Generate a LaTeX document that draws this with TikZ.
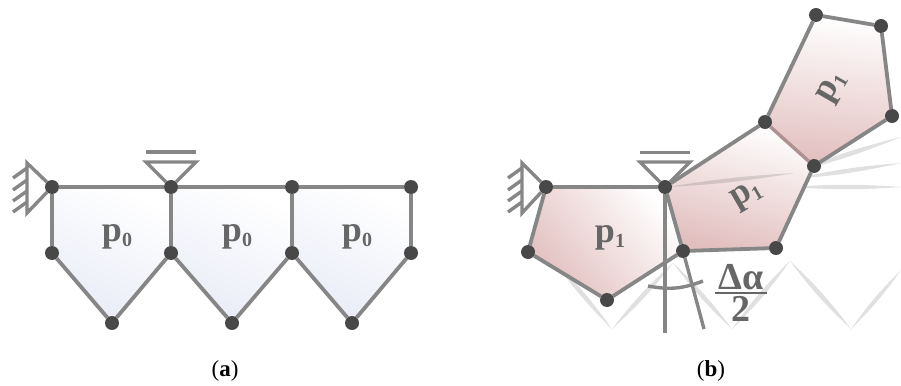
\documentclass[tikz,border=0pt]{standalone}
\usepackage{amsmath}
\usepackage{fontspec}
\setmainfont{Liberation Serif}
\usetikzlibrary{backgrounds}
\definecolor{ChainGray}{HTML}{868686}
\definecolor{ChainDot}{HTML}{484848}
\definecolor{ChainText}{HTML}{666666}
\definecolor{ChainBlue}{HTML}{E9ECF7}
\definecolor{ChainRed}{HTML}{E2BEBE}
\definecolor{ChainSeam}{HTML}{AE9090}
\newcommand{\loadlabel}[1]{p\raisebox{-5pt}{\fontsize{20}{20}\selectfont #1}}
\tikzset{
  joint/.style={circle,fill=ChainDot,minimum size=14pt,inner sep=0pt,outer sep=0pt},
  bar/.style={draw=ChainGray,line width=3.8pt},
  thinbar/.style={draw=ChainGray,line width=3.4pt},
  seam/.style={draw=ChainSeam,line width=3.4pt},
  loadtext/.style={text=ChainText,font=\fontsize{36}{36}\selectfont\bfseries,inner sep=0pt},
  ghostlens/.style={fill=black,opacity=0.12},
  caption/.style={font=\fontsize{23}{23}\selectfont,inner sep=0pt}
}

\begin{document}
\begin{tikzpicture}[x=1pt,y=-1pt]
  \useasboundingbox (0,0) rectangle (901,385);
  % undeformed chain
  \node[joint] (at1) at (52,187) {};
  \node[joint] (at2) at (171,187) {};
  \node[joint] (at3) at (292,187) {};
  \node[joint] (at4) at (411,187) {};
  \node[joint] (am1) at (52,253) {};
  \node[joint] (am2) at (171,253) {};
  \node[joint] (am3) at (292,253) {};
  \node[joint] (am4) at (411,253) {};
  \node[joint] (ab1) at (112,323) {};
  \node[joint] (ab2) at (232,323) {};
  \node[joint] (ab3) at (352,323) {};
  % deformed chain
  \node[joint] (b1) at (546,187) {};
  \node[joint] (b2) at (665,187) {};
  \node[joint] (b3) at (683,251) {};
  \node[joint] (b4) at (607,300) {};
  \node[joint] (b5) at (528,252) {};
  \node[joint] (b6) at (776,248) {};
  \node[joint] (b7) at (814,166) {};
  \node[joint] (b8) at (765,122) {};
  \node[joint] (b9) at (892,116) {};
  \node[joint] (b10) at (881,26) {};
  \node[joint] (b11) at (816,15) {};
  % ghost end points
  \coordinate (z0) at (555,262);
  \coordinate (z1) at (612,329);
  \coordinate (z2) at (673,263);
  \coordinate (z3) at (732,329);
  \coordinate (z4) at (790,261);
  \coordinate (z5) at (851,329);
  \coordinate (z6) at (901,270);
  \coordinate (r0) at (668,187);
  \coordinate (r1) at (795,173);
  \coordinate (r2) at (791,173);
  \coordinate (r3) at (901,137);
  \coordinate (r4) at (793,179);
  \coordinate (r5) at (901,163);
  \coordinate (r6) at (792,187);
  \coordinate (r7) at (901,187);
  \begin{scope}[on background layer]
    \foreach \from/\to in {z0/z1,z1/z2,z2/z3,z3/z4,z4/z5,z5/z6}
      \fill[ghostlens] (\from) to[bend left=5] (\to) to[bend left=5] (\from);
    \foreach \from/\to in {r2/r3,r4/r5,r6/r7}
      \fill[ghostlens] (\from) to[bend left=4] (\to) to[bend left=4] (\from);
    \shade[bottom color=ChainBlue,top color=white,shading angle=-25] (at1.center)--(at2.center)--(am2.center)--(ab1.center)--(am1.center)--cycle;
    \shade[bottom color=ChainBlue,top color=white,shading angle=-25] (at2.center)--(at3.center)--(am3.center)--(ab2.center)--(am2.center)--cycle;
    \shade[bottom color=ChainBlue,top color=white,shading angle=-25] (at3.center)--(at4.center)--(am4.center)--(ab3.center)--(am3.center)--cycle;
    \shade[bottom color=ChainRed,top color=white,shading angle=-50] (b1.center)--(b2.center)--(b3.center)--(b4.center)--(b5.center)--cycle;
    \shade[bottom color=ChainRed,top color=white,shading angle=-15] (b2.center)--(b3.center)--(b6.center)--(b7.center)--(b8.center)--cycle;
    \shade[bottom color=ChainRed,top color=white,shading angle=-5] (b8.center)--(b7.center)--(b9.center)--(b10.center)--(b11.center)--cycle;
    \fill[ghostlens] (r0) to[bend left=3] (r1) to[bend left=3] (r0);
  \end{scope}
  % bars (a)
  \draw[bar] (at1)--(at2); \draw[bar] (at2)--(at3); \draw[bar] (at3)--(at4);
  \draw[bar] (at1)--(am1); \draw[bar] (at2)--(am2); \draw[bar] (at3)--(am3); \draw[bar] (at4)--(am4);
  \draw[bar] (am1)--(ab1); \draw[bar] (ab1)--(am2); \draw[bar] (am2)--(ab2);
  \draw[bar] (ab2)--(am3); \draw[bar] (am3)--(ab3); \draw[bar] (ab3)--(am4);
  % bars (b)
  \draw[bar] (b1)--(b2); \draw[bar] (b2)--(b3); \draw[bar] (b3)--(b4); \draw[bar] (b4)--(b5); \draw[bar] (b5)--(b1);
  \draw[bar] (b3)--(b6); \draw[bar] (b6)--(b7); \draw[seam] (b7)--(b8); \draw[bar] (b8)--(b2);
  \draw[bar] (b7)--(b9); \draw[bar] (b9)--(b10); \draw[bar] (b10)--(b11); \draw[bar] (b11)--(b8);
  % supports (a)
  \coordinate (ah1) at (27,163);
  \coordinate (ah2) at (27,213);
  \coordinate (ar1) at (146,162);
  \coordinate (ar2) at (196,162);
  \coordinate (ar3) at (146,152);
  \coordinate (ar4) at (196,152);
  \draw[thinbar] (at1)--(ah1)--(ah2)--(at1);
  \draw[thinbar] (at2)--(ar1)--(ar2)--(at2);
  \draw[thinbar] (ar3)--(ar4);
  \foreach \y/\i in {168/1,180/2,191/3,202/4} {
    \coordinate (ak\i) at (27,\y);
    \coordinate (al\i) at (13,\y+10);
    \draw[thinbar] (ak\i)--(al\i);
  }
  % supports (b)
  \coordinate (bh1) at (522,163);
  \coordinate (bh2) at (522,213);
  \coordinate (br1) at (640,162);
  \coordinate (br2) at (690,162);
  \coordinate (br3) at (640,152.500);
  \coordinate (br4) at (690,152.500);
  \draw[thinbar] (b1)--(bh1)--(bh2)--(b1);
  \draw[thinbar] (b2)--(br1)--(br2)--(b2);
  \draw[thinbar] (br3)--(br4);
  \foreach \y/\i in {168/1,180/2,191/3,202/4} {
    \coordinate (bk\i) at (522,\y);
    \coordinate (bl\i) at (508,\y+10);
    \draw[thinbar] (bk\i)--(bl\i);
  }
  % rotation angle
  \coordinate (vtip) at (665,333);
  \coordinate (stip) at (704,329);
  \coordinate (arcl) at (648,286);
  \coordinate (arcr) at (703,281);
  \draw[thinbar] (b2)--(vtip);
  \draw[thinbar] (b3)--(stip);
  \draw[thinbar] (arcl) to[bend right=16] (arcr);
  % labels
  \node[loadtext] (pa1) at (117,237) {\loadlabel{0}};
  \node[loadtext] (pa2) at (237,237) {\loadlabel{0}};
  \node[loadtext] (pa3) at (357,237) {\loadlabel{0}};
  \node[loadtext] (pb1) at (610,238) {\loadlabel{1}};
  \node[loadtext,rotate=30] (pb2) at (747,196) {\loadlabel{1}};
  \node[loadtext,rotate=60] (pb3) at (833,88) {\loadlabel{1}};
  \node[loadtext,font=\fontsize{38}{38}\selectfont\bfseries] (dalpha) at (741,293)
    {$\genfrac{}{}{2pt}{}{\mbox{\kern3pt Δα\kern3pt}}{\mbox{2}}$};
  \node[caption] (capa) at (225,371) {(\textbf{a})};
  \node[caption] (capb) at (711,371) {(\textbf{b})};
\end{tikzpicture}
\end{document}
